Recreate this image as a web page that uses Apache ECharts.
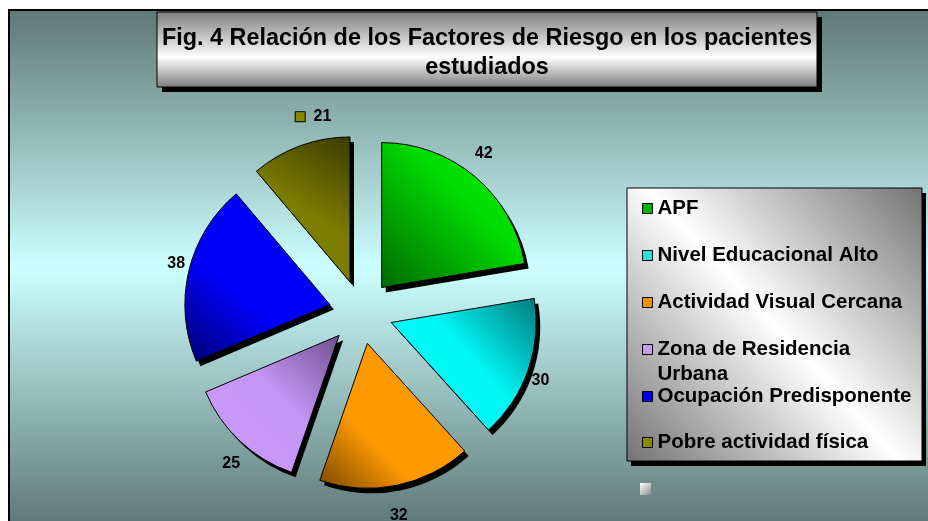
<!DOCTYPE html>
<html>
<head>
    <meta charset="utf-8">
    <title>Fig. 4 Factores de Riesgo</title>
    <script src="https://cdn.jsdelivr.net/npm/echarts@6/dist/echarts.min.js"></script>
    <style>
        body { margin: 0; background: #ffffff; overflow: hidden; }
        #main { width: 928px; height: 521px; }
    </style>
</head>
<body>
    <div id="main"></div>
<script>
    // datos
    var factores = ['APF', 'Nivel Educacional Alto', 'Actividad Visual Cercana',
        'Zona de Residencia Urbana', 'Ocupación Predisponente', 'Pobre actividad física'];
    var pacientes = [42, 30, 32, 25, 38, 21];

    // degradado de cada sector: colores [inicio, medio, final] y posicion del medio
    var degradados = [
        { c: ['#006800', '#00dd00', '#00e800'], m: 0.6 },
        { c: ['#00ffff', '#00f6f6', '#007a7a'], m: 0.55 },
        { c: ['#7a4800', '#ff9900', '#ff9900'], m: 0.35 },
        { c: ['#cc99ff', '#c496f5', '#6e4f8e'], m: 0.55 },
        { c: ['#000070', '#0000ff', '#0000ff'], m: 0.4 },
        { c: ['#808000', '#7c7c00', '#3a3a00'], m: 0.5 }
    ];
    var coloresLeyenda = ['#00b400', '#30dede', '#f29000', '#c89cf0', '#0000ee', '#8a8a00'];

    var fuente = 'Liberation Sans, Arial, sans-serif';
    var centro = [361, 312];
    var radio = 145;
    // las etiquetas van sobre una elipse (el pastel original es un poco ovalado)
    var rx = 190, ry = 208;

    function grad(d) {
        return new echarts.graphic.LinearGradient(0, 1, 1, 0, [
            { offset: 0, color: d.c[0] },
            { offset: d.m, color: d.c[1] },
            { offset: 1, color: d.c[2] }
        ]);
    }

    var total = 0;
    for (var i = 0; i < pacientes.length; i++) total += pacientes[i];
    var bisectores = [];
    var acum = 0;
    for (var i = 0; i < pacientes.length; i++) {
        var ang = 90 - (acum + pacientes[i] / 2) / total * 360;
        bisectores.push(ang * Math.PI / 180);
        acum += pacientes[i];
    }
    var ultimo = factores.length - 1;

    var datos = [], sombras = [], etiquetas = [];
    for (var i = 0; i < factores.length; i++) {
        datos.push({
            name: factores[i],
            value: pacientes[i],
            selected: true,
            itemStyle: { color: grad(degradados[i]) }
        });
        sombras.push({ name: factores[i], value: pacientes[i], selected: true });
        etiquetas.push({ name: factores[i], value: pacientes[i] });
    }

    function leyenda(desde, hasta, top, gap, formato) {
        var items = [];
        for (var j = desde; j < hasta; j++) {
            items.push({ name: factores[j], itemStyle: { color: coloresLeyenda[j] } });
        }
        var l = {
            orient: 'vertical',
            left: 637,
            top: top,
            itemGap: gap,
            itemWidth: 10,
            itemHeight: 10,
            icon: 'rect',
            selectedMode: false,
            itemStyle: { borderColor: '#000', borderWidth: 1 },
            textStyle: {
                fontFamily: fuente, fontSize: 20.5, fontWeight: 'bold', color: '#000', lineHeight: 25
            },
            data: items
        };
        if (formato) l.formatter = formato;
        return l;
    }

    var myChart = echarts.init(document.getElementById('main'));
    var option = {
        animation: false,
        backgroundColor: '#ffffff',
        title: {
            text: 'Fig. 4 Relación de los Factores de Riesgo en los pacientes\nestudiados',
            left: 487,
            top: 24,
            textAlign: 'center',
            padding: 0,
            textStyle: {
                fontFamily: fuente, fontSize: 23.4, fontWeight: 'bold', color: '#000', lineHeight: 29
            }
        },
        legend: [
            leyenda(0, 3, 191, 22),
            // linea vacia arriba para que el cuadro quede junto a la primera linea
            leyenda(3, 4, 307, 22, function (n) { return '\nZona de Residencia\nUrbana'; }),
            leyenda(4, 6, 379, 21)
        ],
        graphic: [
            {
                type: 'rect', z: -10, silent: true,
                shape: { x: 9, y: 10, width: 1000, height: 600 },
                style: {
                    fill: new echarts.graphic.LinearGradient(0, 10, 0, 526, [
                        { offset: 0, color: '#5e7876' },
                        { offset: 0.5, color: '#ccffff' },
                        { offset: 1, color: '#5e7876' }
                    ], true)
                }
            },
            {
                type: 'polyline', z: -9, silent: true,
                shape: { points: [[9, 530], [9, 10], [940, 10]] },
                style: { stroke: '#000', lineWidth: 2, fill: null }
            },
            // caja del titulo con su sombra
            {
                type: 'rect', z: 1, silent: true,
                shape: { x: 162, y: 17, width: 660, height: 75 },
                style: { fill: '#000' }
            },
            {
                type: 'rect', z: 1, silent: true,
                shape: { x: 157, y: 12, width: 660, height: 75 },
                style: {
                    fill: new echarts.graphic.LinearGradient(0, 0, 0, 1, [
                        { offset: 0, color: '#7c7c7c' },
                        { offset: 0.6, color: '#ffffff' },
                        { offset: 1, color: '#7c7c7c' }
                    ]),
                    stroke: '#000', lineWidth: 1
                }
            },
            // caja de la leyenda con su sombra
            {
                type: 'rect', z: 1, silent: true,
                shape: { x: 631, y: 193, width: 295, height: 273 },
                style: { fill: '#000' }
            },
            {
                type: 'rect', z: 1, silent: true,
                shape: { x: 627, y: 188, width: 295, height: 273 },
                style: {
                    fill: new echarts.graphic.LinearGradient(0, 1, 1, 0, [
                        { offset: 0, color: '#737373' },
                        { offset: 0.5, color: '#ffffff' },
                        { offset: 1, color: '#737373' }
                    ]),
                    stroke: '#000', lineWidth: 1
                }
            },
            {
                type: 'rect', z: 1, silent: true,
                shape: { x: 640, y: 483, width: 11, height: 12 },
                style: {
                    fill: new echarts.graphic.LinearGradient(0, 0, 1, 1, [
                        { offset: 0, color: '#ffffff' },
                        { offset: 1, color: '#8c8c8c' }
                    ])
                }
            }
        ],
        series: [
            {
                // sombra negra de los sectores
                type: 'pie',
                silent: true,
                z: 1,
                center: [centro[0] + 4, centro[1] + 5],
                radius: radio,
                startAngle: 90,
                clockwise: true,
                selectedMode: 'multiple',
                selectedOffset: 32,
                emphasis: { disabled: true },
                itemStyle: { color: '#000' },
                label: { show: false },
                labelLine: { show: false },
                data: sombras
            },
            {
                type: 'pie',
                z: 2,
                center: centro,
                radius: radio,
                startAngle: 90,
                clockwise: true,
                selectedMode: 'multiple',
                selectedOffset: 32,
                emphasis: { disabled: true },
                itemStyle: { borderColor: '#000', borderWidth: 1 },
                label: { show: false },
                labelLine: { show: false },
                data: datos
            },
            {
                // solo las etiquetas de valores
                type: 'pie',
                silent: true,
                z: 3,
                center: centro,
                radius: radio,
                startAngle: 90,
                clockwise: true,
                avoidLabelOverlap: false,
                emphasis: { disabled: true },
                itemStyle: { color: 'rgba(0,0,0,0)' },
                label: {
                    position: 'outside',
                    fontFamily: fuente, fontSize: 16, fontWeight: 'bold', color: '#000',
                    formatter: function (p) {
                        if (p.dataIndex === ultimo) {
                            return '{k|}{v|  ' + p.value + '}';
                        }
                        return '{v|' + p.value + '}';
                    },
                    rich: {
                        v: { fontFamily: fuente, fontSize: 16, fontWeight: 'bold', color: '#000' },
                        k: { width: 9, height: 9, backgroundColor: coloresLeyenda[5], borderColor: '#000', borderWidth: 1 }
                    }
                },
                labelLine: { show: false },
                labelLayout: function (p) {
                    var a = bisectores[p.dataIndex];
                    return {
                        x: centro[0] + rx * Math.cos(a),
                        y: centro[1] - ry * Math.sin(a),
                        align: p.dataIndex === ultimo ? 'left' : 'center',
                        verticalAlign: 'middle'
                    };
                },
                data: etiquetas
            }
        ]
    };
    myChart.setOption(option);
</script>
</body>
</html>
